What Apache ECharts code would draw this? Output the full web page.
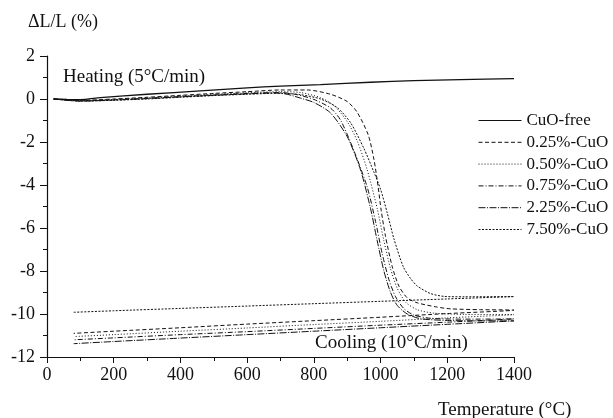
<!DOCTYPE html>
<html>
<head>
<meta charset="utf-8">
<title>Dilatometry of CuO-doped samples</title>
<script src="https://cdn.jsdelivr.net/npm/echarts@6/dist/echarts.min.js"></script>
<style>
  html, body { margin: 0; padding: 0; background: #fff; }
  #chart { width: 613px; height: 418px; }
</style>
</head>
<body>
<div id="chart"></div>
<script>
// Linear shrinkage dL/L (%) versus temperature (°C): heating at 5 °C/min, then cooling at 10 °C/min.
const sampleNames = ['CuO-free', '0.25%-CuO', '0.50%-CuO', '0.75%-CuO', '2.25%-CuO', '7.50%-CuO'];
const xTicks = [0, 200, 400, 600, 800, 1000, 1200, 1400];
const yTicks = [-12, -10, -8, -6, -4, -2, 0, 2];

const cuoFreeHeating = [[20,0],[60,-0.02],[100,-0.03],[160,0.06],[300,0.22],[460,0.38],[600,0.52],[700,0.6],[820,0.67],[970,0.78],[1100,0.85],[1240,0.9],[1400,0.95]];

const cuo025Heating = [[20,0],[100,-0.06],[200,0.0],[300,0.08],[400,0.17],[500,0.26],[600,0.34],[700,0.42],[780,0.42],[850,0.22],[900,-0.12],[930,-0.62],[963,-1.67],[980,-2.8],[992,-4.0],[1002,-5.2],[1015,-6.4],[1035,-7.8],[1055,-8.7],[1080,-9.25],[1110,-9.48],[1170,-9.68],[1210,-9.76],[1300,-9.8],[1400,-9.82]];
const cuo025Cooling = [[1400,-9.82],[1200,-9.98],[1000,-10.15],[800,-10.31],[600,-10.47],[400,-10.64],[200,-10.8],[80,-10.9]];

const cuo050Heating = [[20,0],[100,-0.08],[200,-0.02],[300,0.05],[400,0.14],[500,0.22],[600,0.29],[700,0.34],[760,0.3],[820,0.06],[860,-0.3],[900,-1.05],[930,-1.95],[960,-3.3],[990,-5.1],[1010,-6.6],[1030,-7.9],[1050,-8.8],[1075,-9.45],[1110,-9.8],[1160,-9.96],[1250,-10.02],[1400,-10.03]];
const cuo050Cooling = [[1400,-10.03],[1200,-10.18],[1000,-10.34],[800,-10.49],[600,-10.65],[400,-10.8],[200,-10.96],[80,-11.05]];

const cuo075Heating = [[20,0],[100,-0.08],[200,-0.04],[300,0.03],[400,0.11],[500,0.19],[600,0.26],[700,0.3],[750,0.2],[800,-0.02],[850,-0.42],[880,-0.98],[920,-2.4],[960,-4.1],[985,-5.7],[1005,-7.2],[1025,-8.4],[1045,-9.2],[1070,-9.75],[1100,-10.05],[1150,-10.2],[1250,-10.24],[1400,-10.23]];
const cuo075Cooling = [[1400,-10.23],[1200,-10.38],[1000,-10.52],[800,-10.67],[600,-10.82],[400,-10.96],[200,-11.11],[80,-11.2]];

const cuo225Heating = [[20,0],[100,-0.1],[200,-0.05],[300,0.02],[400,0.1],[500,0.17],[600,0.24],[680,0.28],[720,0.22],[760,0.04],[800,-0.16],[850,-0.65],[900,-1.75],[940,-3.3],[970,-5.1],[990,-6.6],[1010,-8.0],[1030,-9.0],[1050,-9.6],[1080,-10.0],[1120,-10.22],[1200,-10.3],[1300,-10.32],[1400,-10.32]];
const cuo225Cooling = [[1400,-10.32],[1200,-10.48],[1000,-10.64],[800,-10.8],[600,-10.96],[400,-11.12],[200,-11.28],[80,-11.38]];

const cuo750Heating = [[20,0],[100,-0.1],[200,-0.06],[300,0.0],[400,0.08],[500,0.16],[600,0.22],[700,0.27],[760,0.2],[820,0.0],[870,-0.4],[910,-1.1],[950,-2.3],[980,-3.4],[1000,-4.2],[1020,-5.3],[1040,-6.5],[1068,-7.8],[1090,-8.35],[1110,-8.7],[1150,-9.05],[1190,-9.18],[1250,-9.2],[1400,-9.19]];
const cuo750Cooling = [[1400,-9.19],[1200,-9.3],[1000,-9.41],[800,-9.52],[600,-9.63],[400,-9.74],[200,-9.85],[80,-9.92]];

const sampleCurves = [
  cuoFreeHeating,
  cuo025Heating.concat(cuo025Cooling),
  cuo050Heating.concat(cuo050Cooling),
  cuo075Heating.concat(cuo075Cooling),
  cuo225Heating.concat(cuo225Cooling),
  cuo750Heating.concat(cuo750Cooling)
];

// dash patterns per sample: solid, dashed, dotted, dash-dot, long dash-dot, fine dash
const dashStyles = ['solid', [4, 2.5], [1, 2], [5, 2, 1, 2], [7, 1.5, 1, 1.5], [2, 1.5]];

const serif = '"Liberation Serif", "Times New Roman", serif';
const ink = '#111';

const chart = echarts.init(document.getElementById('chart'), null, { renderer: 'canvas' });

chart.setOption({
  animation: false,
  backgroundColor: '#fff',
  grid: { left: 47, right: 99, top: 56, bottom: 61, containLabel: false },
  xAxis: {
    type: 'value',
    min: xTicks[0],
    max: xTicks[xTicks.length - 1],
    interval: xTicks[1] - xTicks[0],
    axisLine: { show: true, onZero: false, lineStyle: { color: ink, width: 1.2 } },
    axisTick: { show: true, inside: false, length: 6, lineStyle: { color: ink, width: 1 } },
    minorTick: { show: true, splitNumber: 2, length: 4, lineStyle: { color: ink, width: 1 } },
    splitLine: { show: false },
    axisLabel: { color: ink, fontFamily: serif, fontSize: 18, margin: 9, formatter: function (v) { return String(v); } }
  },
  yAxis: {
    type: 'value',
    min: yTicks[0],
    max: yTicks[yTicks.length - 1],
    interval: yTicks[1] - yTicks[0],
    axisLine: { show: true, onZero: false, lineStyle: { color: ink, width: 1.2 } },
    axisTick: { show: true, inside: false, length: 7, lineStyle: { color: ink, width: 1 } },
    minorTick: { show: true, splitNumber: 2, length: 4, lineStyle: { color: ink, width: 1 } },
    splitLine: { show: false },
    axisLabel: { color: ink, fontFamily: serif, fontSize: 18, margin: 12, formatter: function (v) { return String(v); } }
  },
  legend: {
    orient: 'vertical',
    left: 478,
    top: 112,
    padding: 0,
    itemWidth: 43,
    itemHeight: 14,
    itemGap: 4.8,
    itemStyle: { opacity: 0 },
    lineStyle: { width: 1 },
    textStyle: { color: ink, fontFamily: serif, fontSize: 17 },
    data: sampleNames
  },
  graphic: [
    { type: 'text', x: 28, y: 22, style: { text: 'ΔL/L (%)', fill: ink, font: '18px ' + serif, align: 'left', verticalAlign: 'middle' } },
    { type: 'text', x: 63, y: 77, style: { text: 'Heating (5°C/min)', fill: ink, font: '19px ' + serif, align: 'left', verticalAlign: 'middle' } },
    { type: 'text', x: 315, y: 343, style: { text: 'Cooling (10°C/min)', fill: ink, font: '19px ' + serif, align: 'left', verticalAlign: 'middle' } },
    { type: 'text', x: 438, y: 410, style: { text: 'Temperature (°C)', fill: ink, font: '19px ' + serif, align: 'left', verticalAlign: 'middle' } }
  ],
  series: sampleNames.map(function (name, i) {
    return {
      name: name,
      type: 'line',
      data: sampleCurves[i],
      showSymbol: false,
      symbol: 'none',
      smooth: 0.25,
      clip: false,
      lineStyle: { color: ink, width: i === 0 ? 1.3 : 1, type: dashStyles[i] },
      itemStyle: { color: ink }
    };
  })
});
</script>
</body>
</html>
